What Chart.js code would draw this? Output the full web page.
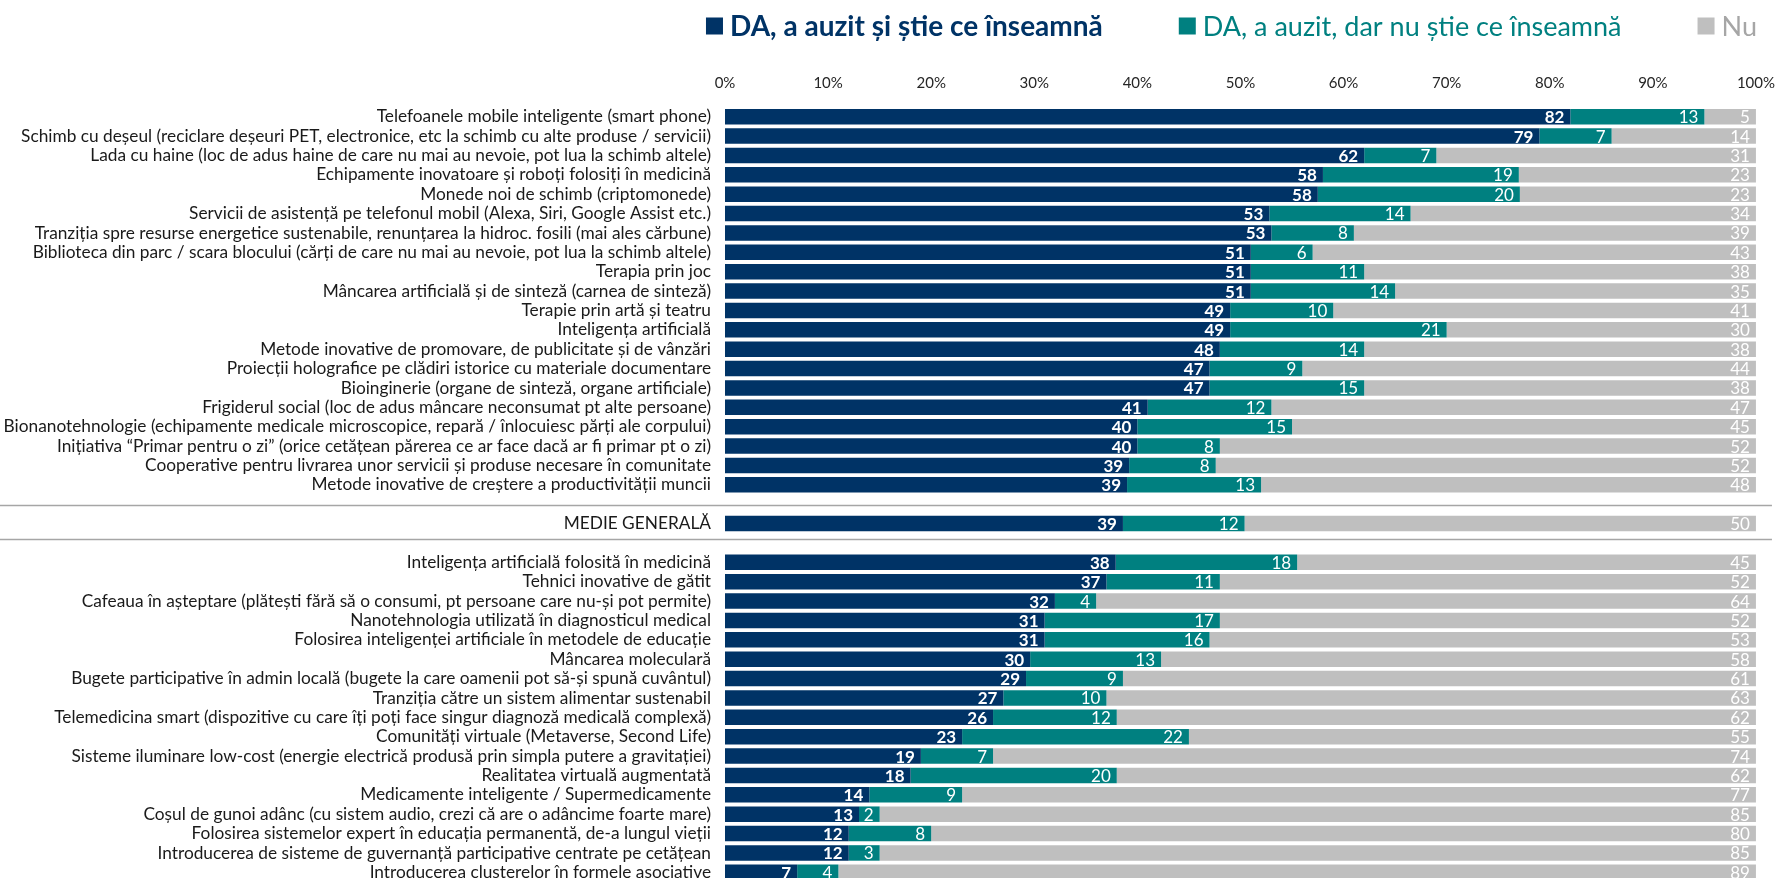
<!DOCTYPE html>
<html lang="ro">
<head>
<meta charset="utf-8">
<title>Cunoașterea inovațiilor</title>
<script src="https://cdn.jsdelivr.net/npm/chart.js@4.4.1/dist/chart.umd.min.js"></script>
<style>
  html, body { margin: 0; padding: 0; background: #fff; overflow: hidden; }
  .chart-wrap { position: relative; width: 1790px; height: 882px; }
</style>
</head>
<body>
<div class="chart-wrap"><canvas id="awarenessChart"></canvas></div>
<script>
// Series names and colours
const seriesNames = ["DA, a auzit și știe ce înseamnă", "DA, a auzit, dar nu știe ce înseamnă", "Nu"];
const seriesColors = ["#003366", "#008080", "#BFBFBF"];

// Upper block (above the average)
const topItems = [
    "Telefoanele mobile inteligente (smart phone)",
    "Schimb cu deșeul (reciclare deșeuri PET, electronice, etc la schimb cu alte produse / servicii)",
    "Lada cu haine (loc de adus haine de care nu mai au nevoie, pot lua la schimb altele)",
    "Echipamente inovatoare și roboți folosiți în medicină",
    "Monede noi de schimb (criptomonede)",
    "Servicii de asistență pe telefonul mobil (Alexa, Siri, Google Assist etc.)",
    "Tranziția spre resurse energetice sustenabile, renunțarea la hidroc. fosili (mai ales cărbune)",
    "Biblioteca din parc / scara blocului (cărți de care nu mai au nevoie, pot lua la schimb altele)",
    "Terapia prin joc",
    "Mâncarea artificială și de sinteză (carnea de sinteză)",
    "Terapie prin artă și teatru",
    "Inteligența artificială",
    "Metode inovative de promovare, de publicitate și de vânzări",
    "Proiecții holografice pe clădiri istorice cu materiale documentare",
    "Bioinginerie (organe de sinteză, organe artificiale)",
    "Frigiderul social (loc de adus mâncare neconsumat pt alte persoane)",
    "Bionanotehnologie (echipamente medicale microscopice, repară / înlocuiesc părți ale corpului)",
    "Inițiativa “Primar pentru o zi” (orice cetățean părerea ce ar face dacă ar fi primar pt o zi)",
    "Cooperative pentru livrarea unor servicii și produse necesare în comunitate",
    "Metode inovative de creștere a productivității muncii"
];
const topKnow  = [82, 79, 62, 58, 57.5, 52.8, 53, 51, 51, 51, 49, 49, 48, 47, 47, 41, 40, 40, 39.2, 39];
const topHeard = [13, 7, 7, 19, 19.6, 13.7, 8, 6, 11, 14, 10, 21, 14, 9, 15, 12, 15, 8, 8.4, 13];
const topNo    = [5, 14, 31, 23, 22.9, 33.5, 39, 43, 38, 35, 41, 30, 38, 44, 38, 47, 45, 52, 52.4, 48];

// Overall average
const avgLabel = "MEDIE GENERALĂ";
const avgKnow = 38.6;
const avgHeard = 11.8;
const avgNo = 49.6;

// Lower block (below the average)
const bottomItems = [
    "Inteligența artificială folosită în medicină",
    "Tehnici inovative de gătit",
    "Cafeaua în așteptare (plătești fără să o consumi, pt persoane care nu-și pot permite)",
    "Nanotehnologia utilizată în diagnosticul medical",
    "Folosirea inteligenței artificiale în metodele de educație",
    "Mâncarea moleculară",
    "Bugete participative în admin locală (bugete la care oamenii pot să-și spună cuvântul)",
    "Tranziția către un sistem alimentar sustenabil",
    "Telemedicina smart (dispozitive cu care îți poți face singur diagnoză medicală complexă)",
    "Comunități virtuale (Metaverse, Second Life)",
    "Sisteme iluminare low-cost (energie electrică produsă prin simpla putere a gravitației)",
    "Realitatea virtuală augmentată",
    "Medicamente inteligente / Supermedicamente",
    "Coșul de gunoi adânc (cu sistem audio, crezi că are o adâncime foarte mare)",
    "Folosirea sistemelor expert în educația permanentă, de-a lungul vieții",
    "Introducerea de sisteme de guvernanță participative centrate pe cetățean",
    "Introducerea clusterelor în formele asociative"
];
const bottomKnow  = [37.9, 37, 32, 31, 31, 29.6, 29.2, 27, 26, 23, 19, 18, 14, 13, 12, 12, 7];
const bottomHeard = [17.6, 11, 4, 17, 16, 12.7, 9.4, 10, 12, 22, 7, 20, 9, 2, 8, 3, 4];
const bottomNo    = [44.5, 52, 64, 52, 53, 57.7, 61.4, 63, 62, 55, 74, 62, 77, 85, 80, 85, 89];

// Axis ticks
const tickValues = [0, 10, 20, 30, 40, 50, 60, 70, 80, 90, 100];

// Full category list, with empty rows around the average
const categories = [...topItems, "", avgLabel, "", ...bottomItems];
const avgIndex = categories.indexOf(avgLabel);
const joinSeries = (top, avg, bottom) => [...top, null, avg, null, ...bottom];

Chart.defaults.font.family = "Lato, 'Noto Sans', sans-serif";
Chart.defaults.color = "#1a1a1a";

// Grey rules above and below the average row
const separatorLines = {
    id: "separatorLines",
    afterDatasetsDraw(chart) {
        const ctx = chart.ctx;
        const yScale = chart.scales.y;
        ctx.save();
        ctx.strokeStyle = "#A6A6A6";
        ctx.lineWidth = 1.5;
        categories.forEach((cat, i) => {
            if (cat !== "") return;
            // hug the average row a little
            const shift = i < avgIndex ? 1 : -4;
            const y = Math.round(yScale.getPixelForValue(i)) + shift + 0.5;
            ctx.beginPath();
            ctx.moveTo(0, y);
            ctx.lineTo(chart.chartArea.right + 16, y);
            ctx.stroke();
        });
        ctx.restore();
    }
};

// Values printed at the end of each segment
const barValueLabels = {
    id: "barValueLabels",
    afterDatasetsDraw(chart) {
        const ctx = chart.ctx;
        ctx.save();
        ctx.textAlign = "right";
        ctx.textBaseline = "middle";
        ctx.fillStyle = "#ffffff";
        chart.data.datasets.forEach((ds, di) => {
            ctx.font = (di === 0 ? "bold " : "") + "17px Lato, sans-serif";
            chart.getDatasetMeta(di).data.forEach((bar, i) => {
                const v = ds.data[i];
                if (v == null) return;
                const x = Math.min(bar.x, chart.chartArea.right) - 6;
                ctx.fillText(String(Math.round(v)), x, bar.y + 1);
            });
        });
        ctx.restore();
    }
};

// Legend row on top (first entry in bold, text in series colour)
const legendRow = {
    id: "legendRow",
    afterDraw(chart) {
        const ctx = chart.ctx;
        const fonts = ["bold 28px Lato, sans-serif", "27px Lato, sans-serif", "27px Lato, sans-serif"];
        const textColors = ["#003366", "#008080", "#A6A6A6"];
        const box = 17, boxGap = 7, itemGap = 76, y = 26;
        ctx.save();
        const widths = seriesNames.map((name, i) => {
            ctx.font = fonts[i];
            return ctx.measureText(name).width;
        });
        const total = widths.reduce((s, w) => s + box + boxGap + w, 0) + itemGap * (seriesNames.length - 1);
        let x = (chart.chartArea.left + chart.chartArea.right) / 2 - 9 - total / 2;
        ctx.textBaseline = "middle";
        ctx.textAlign = "left";
        seriesNames.forEach((name, i) => {
            ctx.fillStyle = seriesColors[i];
            ctx.fillRect(x, y - box / 2, box, box);
            x += box + boxGap;
            ctx.font = fonts[i];
            ctx.fillStyle = textColors[i];
            ctx.fillText(name, x, y + 1);
            x += widths[i] + itemGap;
        });
        ctx.restore();
    }
};

const chart = new Chart(document.getElementById("awarenessChart"), {
    type: "bar",
    data: {
        labels: categories,
        datasets: [
            { label: seriesNames[0], data: joinSeries(topKnow, avgKnow, bottomKnow), backgroundColor: seriesColors[0] },
            { label: seriesNames[1], data: joinSeries(topHeard, avgHeard, bottomHeard), backgroundColor: seriesColors[1] },
            { label: seriesNames[2], data: joinSeries(topNo, avgNo, bottomNo), backgroundColor: seriesColors[2] }
        ]
    },
    options: {
        indexAxis: "y",
        responsive: true,
        maintainAspectRatio: false,
        animation: false,
        barPercentage: 0.8,
        categoryPercentage: 1.0,
        layout: { padding: { top: 60, right: 20, left: 0, bottom: 0 } },
        plugins: {
            legend: { display: false },
            tooltip: { enabled: true }
        },
        scales: {
            x: {
                position: "top",
                stacked: true,
                min: 0,
                max: 100,
                grid: { display: false, drawTicks: false },
                border: { display: false },
                afterBuildTicks(scale) {
                    scale.ticks = tickValues.map((v) => ({ value: v }));
                },
                afterFit(scale) {
                    scale.height = 47;
                },
                ticks: {
                    padding: 15,
                    color: "#262626",
                    font: { size: 15 },
                    callback: (v) => v + "%"
                }
            },
            y: {
                stacked: true,
                grid: { display: false, drawTicks: false },
                border: { display: false },
                afterFit(scale) {
                    // fixed label column; no extra room for the last label
                    scale.width = 725;
                    scale.paddingTop = 0;
                    scale.paddingBottom = 0;
                },
                ticks: {
                    autoSkip: false,
                    padding: 14,
                    color: "#1a1a1a",
                    font: { size: 17.3 }
                }
            }
        }
    },
    plugins: [separatorLines, barValueLabels, legendRow]
});
</script>
</body>
</html>
